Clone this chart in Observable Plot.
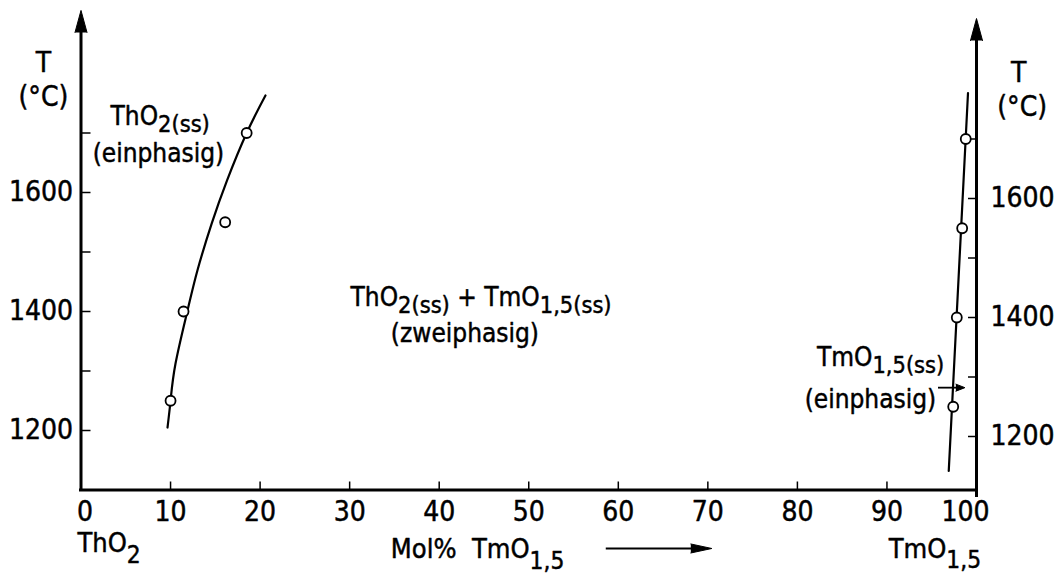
<!DOCTYPE html>
<html>
<head>
<meta charset="utf-8">
<script src="https://cdn.jsdelivr.net/npm/d3@7"></script>
<script src="https://cdn.jsdelivr.net/npm/@observablehq/plot@0.6"></script>
<style>
  html, body { margin: 0; padding: 0; background: #fff; }
  #chart svg { display: block; }
</style>
</head>
<body>
<div id="chart"></div>
<script>
// ---- axis ticks ----
const xTickStart = [0];
const xTickLabels = [10, 20, 30, 40, 50, 60, 70, 80, 90];
const xTickEnd = [100];
const xTickMarks = [10, 20, 30, 40, 50, 60, 70, 80, 90];
const tTicks = [1200, 1300, 1400, 1500, 1600, 1700];
const tTickLabels = [1200, 1400, 1600];

// ---- ThO2(ss) phase boundary: measured samples and drawn boundary ----
const tho2Mol = [10.0, 11.45, 16.1, 18.5];
const tho2T = [1250, 1400, 1550, 1700];
const tho2BoundMol = [9.66, 10.0, 10.56, 11.9, 13.0, 14.6, 16.3, 18.5, 20.6];
const tho2BoundT = [1205, 1250, 1313, 1402, 1469, 1548, 1620, 1700, 1763];

// ---- TmO1,5(ss) phase boundary ----
const tmoMol = [97.4, 97.8, 98.4, 98.8];
const tmoT = [1250, 1400, 1550, 1700];
const tmoBoundMol = [96.9, 99.05];
const tmoBoundT = [1142, 1777];

// ---- region / axis annotations ({…} = lowered index, {+…} = lowered further) ----
const phaseLabels = [
  {x: 3.3, t: 1713, text: "ThO{2(ss)}"},
  {x: 1.3, t: 1651, text: "(einphasig)"},
  {x: 30.1, t: 1410, text: "ThO{2(ss)} + TmO{1,5(ss)}"},
  {x: 34.6, t: 1348, text: "(zweiphasig)"}
];
const phaseLabelsRight = [
  {x: 96.4, t: 1309, text: "TmO{1,5(ss)}"},
  {x: 95.5, t: 1237, text: "(einphasig)"}
];
const endLabels = [
  {x: -0.4, t: 995, text: "ThO{+2}"},
  {x: 34.6, t: 985, text: "Mol%\u00a0\u00a0TmO{+1,5}"},
  {x: 90.2, t: 986, text: "TmO{+1,5}"}
];
const unitLabels = [
  {x: -4.2, t: 1802, text: "T"},
  {x: -4.2, t: 1746, text: "(°C)"},
  {x: 104.7, t: 1785, text: "T"},
  {x: 105.1, t: 1729, text: "(°C)"}
];

const FONT = "'DejaVu Sans Condensed', 'DejaVu Sans', sans-serif";
const RIGHT_DY = 6;   // the right-hand temperature axis sits a little lower
const zip = (xs, ys) => xs.map((x, i) => ({x, y: ys[i]}));
const ink = {fill: "black", stroke: "black", strokeWidth: 0.45};

const spike = (x, y, opts) => Plot.vector([{x, y}], {
  x: "x", y: "y", shape: "spike", anchor: "start",
  fill: "black", stroke: "black", strokeWidth: 1, ...opts
});

const plot = Plot.plot({
  width: 1058,
  height: 576,
  marginLeft: 80.5,
  marginRight: 82,
  marginTop: 13.5,
  marginBottom: 86.5,
  x: {domain: [0, 100], axis: null},
  y: {domain: [1100, 1900], axis: null},
  style: {background: "white", fontFamily: FONT, overflow: "visible"},
  marks: [
    // axes with arrow tips
    Plot.ruleY([1100], {x1: 0, x2: 100, strokeWidth: 3, strokeLinecap: "square"}),
    Plot.ruleX([0], {y1: 1100, y2: 1875, strokeWidth: 3, strokeLinecap: "square"}),
    spike(0, 1869, {length: 22, r: 6}),
    Plot.ruleX([100], {y1: 1100, y2: 1872, dy: RIGHT_DY, strokeWidth: 3, strokeLinecap: "square"}),
    spike(100, 1865.5, {length: 22, r: 6, dy: RIGHT_DY}),

    // ticks (pointing into the diagram)
    Plot.tickX(xTickMarks, {x: d => d, insetTop: 468, strokeWidth: 1.5}),
    Plot.tickY(tTicks, {y: d => d, insetRight: 885.5, strokeWidth: 1.5}),
    Plot.tickY(tTicks, {y: d => d, insetLeft: 887.5, dy: RIGHT_DY, strokeWidth: 1.5}),

    // tick labels
    Plot.text(xTickStart, {x: d => d, y: 1100, text: d => String(d), lineAnchor: "top", dy: 11, dx: 4, fontSize: 28, ...ink}),
    Plot.text(xTickLabels, {x: d => d, y: 1100, text: d => String(d), lineAnchor: "top", dy: 11, fontSize: 28, ...ink}),
    Plot.text(xTickEnd, {x: d => d, y: 1100, text: d => String(d), lineAnchor: "top", dy: 11, dx: -11, fontSize: 28, ...ink}),
    Plot.text(tTickLabels, {x: 0, y: d => d, text: d => String(d), textAnchor: "end", dx: -8, fontSize: 28, ...ink}),
    Plot.text(tTickLabels, {x: 100, y: d => d, text: d => String(d), textAnchor: "start", dx: 14, dy: RIGHT_DY, fontSize: 28, ...ink}),

    // ThO2-rich boundary
    Plot.line(zip(tho2BoundMol, tho2BoundT), {x: "x", y: "y", curve: "natural", strokeWidth: 2.2}),
    Plot.dot(zip(tho2Mol, tho2T), {x: "x", y: "y", r: 5, fill: "white", stroke: "black", strokeWidth: 1.8}),

    // TmO1,5-rich boundary
    Plot.line(zip(tmoBoundMol, tmoBoundT), {x: "x", y: "y", dy: RIGHT_DY, strokeWidth: 2.2}),
    Plot.dot(zip(tmoMol, tmoT), {x: "x", y: "y", dy: RIGHT_DY, r: 5, fill: "white", stroke: "black", strokeWidth: 1.8}),

    // pointer from the TmO1,5(ss) label to its boundary
    Plot.link([{x1: 95.7, x2: 97.8, y: 1272}], {x1: "x1", x2: "x2", y1: "y", y2: "y", strokeWidth: 1.8}),
    Plot.vector([{x: 97.7, y: 1272}], {x: "x", y: "y", shape: "spike", anchor: "start", rotate: 90, length: 9, r: 3.5, fill: "black", stroke: "black", strokeWidth: 1}),

    // composition arrow under the x axis
    Plot.link([{x1: 58.6, x2: 68.5, y: 1001.7}], {x1: "x1", x2: "x2", y1: "y", y2: "y", strokeWidth: 2.2}),
    Plot.vector([{x: 68.1, y: 1001.7}], {x: "x", y: "y", shape: "spike", anchor: "start", rotate: 90, length: 21, r: 4.5, fill: "black", stroke: "black", strokeWidth: 1}),

    // annotations
    Plot.text(phaseLabels, {x: "x", y: "t", text: "text", textAnchor: "start", lineAnchor: "bottom", fontSize: 26, ...ink}),
    Plot.text(phaseLabelsRight, {x: "x", y: "t", text: "text", textAnchor: "end", lineAnchor: "bottom", fontSize: 26, ...ink}),
    Plot.text(endLabels, {x: "x", y: "t", text: "text", textAnchor: "start", lineAnchor: "bottom", fontSize: 27, ...ink}),
    Plot.text(unitLabels, {x: "x", y: "t", text: "text", textAnchor: "middle", lineAnchor: "bottom", fontSize: 28, ...ink})
  ]
});

// Turn {…} segments of labels into lowered index tspans
function lowerIndices(svg) {
  const ns = "http://www.w3.org/2000/svg";
  for (const node of svg.querySelectorAll("text, tspan")) {
    for (const child of Array.from(node.childNodes)) {
      if (child.nodeType !== 3 || !child.nodeValue.includes("{")) continue;
      const src = child.nodeValue;
      const frag = document.createDocumentFragment();
      let shift = 0, last = 0, m;
      const re = /\{(\+?)([^}]*)\}/g;
      const push = (str, target, small) => {
        if (!str) return;
        const t = document.createElementNS(ns, "tspan");
        const size = small ? 0.9 : 1;
        if (target !== shift) t.setAttribute("dy", `${((target - shift) / size).toFixed(3)}em`);
        if (small) t.setAttribute("font-size", "0.9em");
        shift = target;
        t.textContent = str;
        frag.appendChild(t);
      };
      while ((m = re.exec(src))) {
        push(src.slice(last, m.index), 0, false);
        push(m[2], m[1] ? 0.38 : 0.27, true);
        last = re.lastIndex;
      }
      push(src.slice(last), 0, false);
      node.replaceChild(frag, child);
    }
  }
}
lowerIndices(plot);

document.getElementById("chart").appendChild(plot);
</script>
</body>
</html>
